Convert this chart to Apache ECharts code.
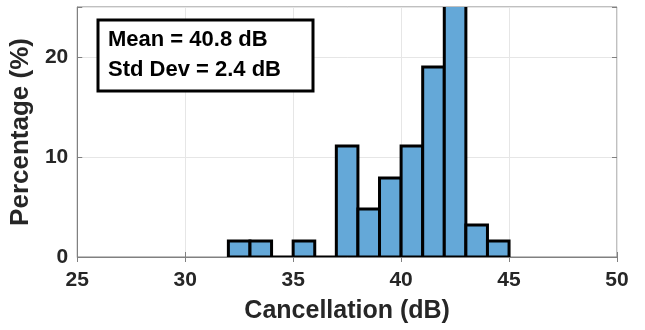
<!DOCTYPE html>
<html><head><meta charset="utf-8">
<script src="https://cdn.jsdelivr.net/npm/echarts@6/dist/echarts.min.js"></script>
<style>html,body{margin:0;padding:0;background:#fff}#c{width:645px;height:330px}</style>
</head><body><div id="c"></div>
<script>
const binStarts = [32,33,34,35,36,37,38,39,40,41,42,43,44];
const binWidth = 1;
const percentages = [1.6,1.6,0,1.6,0,11.1,4.8,7.9,11.1,19.0,36.5,3.2,1.6];
const xTicks = [25,30,35,40,45,50];
const yTicks = [0,10,20];
const statLines = ['Mean = 40.8 dB','Std Dev = 2.4 dB'];

const data = binStarts.map((s,i)=>[s, s+binWidth, percentages[i]]);
const chart = echarts.init(document.getElementById('c'));
const FONT = '"Liberation Sans", Arial, sans-serif';
const TXT = '#262626';
chart.setOption({
  animation:false,
  grid:{left:77,right:28,top:7,bottom:73,show:true,borderColor:'#808080',borderWidth:1,backgroundColor:'transparent'},
  xAxis:[{type:'value',min:xTicks[0],max:xTicks[xTicks.length-1],interval:5,
    axisLine:{show:true,lineStyle:{color:'#808080',width:1}},
    axisTick:{show:true,inside:true,length:5,lineStyle:{color:'#808080'}},
    axisLabel:{color:TXT,fontFamily:FONT,fontWeight:'bold',fontSize:21,margin:13},
    splitLine:{show:true,lineStyle:{color:'#e6e6e6',width:1}},
    name:'Cancellation (dB)',nameLocation:'middle',nameGap:42,
    nameTextStyle:{color:TXT,fontFamily:FONT,fontWeight:'bold',fontSize:25}},
   {type:'value',position:'top',min:25,max:50,interval:5,axisLine:{show:false},
    axisTick:{show:true,inside:true,length:5,lineStyle:{color:'#808080'}},axisLabel:{show:false},splitLine:{show:false}}],
  yAxis:[{type:'value',min:0,max:25,interval:10,
    axisLine:{show:true,lineStyle:{color:'#808080',width:1}},
    axisTick:{show:true,inside:true,length:5,lineStyle:{color:'#808080'}},
    axisLabel:{color:TXT,fontFamily:FONT,fontWeight:'bold',fontSize:21,margin:9,
      formatter:v=>yTicks.includes(v)?String(v):''},
    splitLine:{show:true,lineStyle:{color:'#e6e6e6',width:1}},
    name:'Percentage (%)',nameLocation:'middle',nameGap:39,
    nameTextStyle:{color:TXT,fontFamily:FONT,fontWeight:'bold',fontSize:26}},
   {type:'value',position:'right',min:0,max:25,interval:10,axisLine:{show:false},
    axisTick:{show:true,inside:true,length:5,lineStyle:{color:'#808080'}},axisLabel:{show:false},splitLine:{show:false}}],
  series:[{type:'custom',clip:true,data:data,encode:{x:[0,1],y:2},
    renderItem:function(params,api){
      const p0=api.coord([api.value(0),0]);
      const p1=api.coord([api.value(1),api.value(2)]);
      const cs=params.coordSys;
      const top=Math.max(p1[1],cs.y-4);
      return {type:'rect',shape:{x:p0[0],y:top,width:p1[0]-p0[0],height:p0[1]-top},
        style:{fill:'#64a8d8',stroke:'#000',lineWidth:3}};
    }}],
  graphic:[
    {type:'rect',shape:{x:98,y:20,width:215,height:71},style:{fill:'#fff',stroke:'#000',lineWidth:3},z:100},
    {type:'text',x:108,y:40,style:{text:statLines[0],font:'bold 22px '+FONT,fill:'#000',verticalAlign:'middle'},z:101},
    {type:'text',x:108,y:70,style:{text:statLines[1],font:'bold 22px '+FONT,fill:'#000',verticalAlign:'middle'},z:101}
  ]
});
</script></body></html>
